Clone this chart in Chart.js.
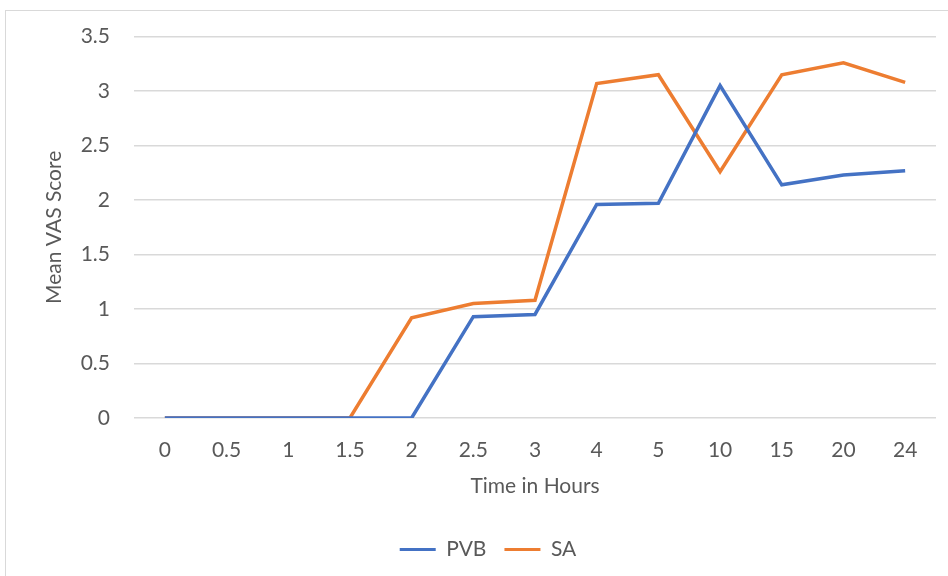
<!DOCTYPE html>
<html><head><meta charset="utf-8">
<script src="https://cdn.jsdelivr.net/npm/chart.js@4"></script>
<style>
html,body{margin:0;padding:0;background:#fff;}
#wrap{position:absolute;left:0;top:0;width:948px;height:576px;}
#frame{position:absolute;left:5px;top:10px;width:960px;height:600px;border:1px solid #d9d9d9;box-sizing:border-box;}
#c{position:absolute;left:0;top:0;}
</style></head><body>
<div id="wrap"><div id="frame"></div><canvas id="c" width="948" height="576"></canvas></div>
<script>
const categories = ["0","0.5","1","1.5","2","2.5","3","4","5","10","15","20","24"];
const pvb = [0,0,0,0,0,0.93,0.95,1.96,1.97,3.05,2.14,2.23,2.27];
const sa  = [0,0,0,0,0.92,1.05,1.08,3.07,3.15,2.26,3.15,3.26,3.08];
const yTicks = [0,0.5,1,1.5,2,2.5,3,3.5];
const FONT = "Lato, 'Open Sans', sans-serif";
const TXT = "#595959";
const FS = 21;
new Chart(document.getElementById('c'), {
  type: 'line',
  data: {
    labels: categories,
    datasets: [
      {label:'PVB', data:pvb, borderColor:'#4472C4', backgroundColor:'#4472C4', borderWidth:3.5, pointRadius:0, tension:0},
      {label:'SA', data:sa, borderColor:'#ED7D31', backgroundColor:'#ED7D31', borderWidth:3.5, pointRadius:0, tension:0}
    ]
  },
  options: {
    responsive:false, animation:false,
    layout:{padding:{left:40,right:12,top:36,bottom:6}},
    plugins:{
      legend:{position:'bottom', labels:{color:TXT, font:{family:FONT,size:FS}, boxWidth:36, boxHeight:3, padding:18, generateLabels(chart){
        return chart.data.datasets.map((d,i)=>({text:d.label, fillStyle:d.borderColor, strokeStyle:d.borderColor, lineWidth:0, fontColor:TXT, datasetIndex:i, hidden:false}));
      }}},
      tooltip:{enabled:false}
    },
    scales:{
      x:{offset:true, grid:{display:false, drawTicks:false}, border:{display:false},
         afterFit(s){ s.height = 103; },
         ticks:{color:TXT, font:{family:FONT,size:FS}, padding:20, maxRotation:0, autoSkip:false},
         title:{display:true, text:'Time in Hours', color:TXT, font:{family:FONT,size:FS}, padding:{top:0,bottom:22}}},
      y:{min:0,max:3.5, afterBuildTicks(ax){ax.ticks = yTicks.map(v=>({value:v}));},
         afterFit(s){ s.width = 94; },
         grid:{color:'#d9d9d9', lineWidth:1.5, drawTicks:false}, border:{display:false},
         ticks:{color:TXT, font:{family:FONT,size:FS}, padding:24, callback:v=>String(v)},
         title:{display:true, text:'Mean VAS Score', color:TXT, font:{family:FONT,size:FS}, padding:{top:2,bottom:0}}}
    }
  }
});
</script>
</body></html>
